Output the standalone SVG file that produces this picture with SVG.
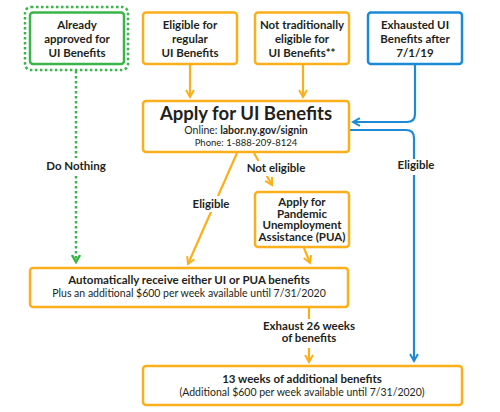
<svg xmlns="http://www.w3.org/2000/svg" width="500" height="412" viewBox="0 0 500 412">
<style>
.o{fill:#fff;stroke:#FBB01B;stroke-width:2.5}
.g{fill:#fff;stroke:#3BB54A;stroke-width:2.5}
.b{fill:#fff;stroke:#1D8AD6;stroke-width:2.5}
.lo{fill:none;stroke:#FBB01B;stroke-width:2.2}
.lb{fill:none;stroke:#1D8AD6;stroke-width:2.2}
.lg{fill:none;stroke:#3BB54A;stroke-width:2.5;stroke-dasharray:2.5 2.5}
text{font-family:Lato,"Open Sans","Liberation Sans",sans-serif;fill:#231F20;text-anchor:middle}
.t{font-size:11.5px;font-weight:bold}
.s{font-size:10.5px}
.w{fill:#fff;stroke:none}
</style>
<defs>
<marker id="ao" viewBox="0 0 10 10" refX="8" refY="5" markerWidth="4.5" markerHeight="4.5" orient="auto" markerUnits="strokeWidth"><path d="M1,1 L8,5 L1,9" fill="none" stroke="#FBB01B" stroke-width="2"/></marker>
<marker id="ab" viewBox="0 0 10 10" refX="8" refY="5" markerWidth="4.5" markerHeight="4.5" orient="auto" markerUnits="strokeWidth"><path d="M1,1 L8,5 L1,9" fill="none" stroke="#1D8AD6" stroke-width="2"/></marker>
<marker id="ag" viewBox="0 0 10 10" refX="8" refY="5" markerWidth="4" markerHeight="4" orient="auto" markerUnits="strokeWidth"><path d="M1,1 L8,5 L1,9" fill="none" stroke="#3BB54A" stroke-width="2.5"/></marker>
</defs>
<g id="connectors">
<path class="lg" d="M76,71 V262" marker-end="url(#ag)"/>
<path class="lo" d="M190,65 V97" marker-end="url(#ao)"/>
<path class="lo" d="M303,65 V97" marker-end="url(#ao)"/>
<path class="lb" d="M415,65 V114 Q415,122 407,122 H353" marker-end="url(#ab)"/>
<path class="lb" d="M350,130 H406 Q414,130 414,138 V361" marker-end="url(#ab)"/>
<path class="lo" d="M237,153 L188,264" marker-end="url(#ao)"/>
<path class="lo" d="M254,153 L272,185" marker-end="url(#ao)"/>
<path class="lo" d="M304,248 L310,263" marker-end="url(#ao)"/>
<path class="lo" d="M309,308 V362" marker-end="url(#ao)"/>
<rect class="w" x="40" y="158" width="72" height="16"/>
<rect class="w" x="184" y="196" width="54" height="16"/>
<rect class="w" x="242" y="161" width="68" height="15"/>
<rect class="w" x="392" y="159" width="46" height="16"/>
<rect class="w" x="254" y="319" width="110" height="29"/>
<text class="t" x="76" y="170">Do Nothing</text>
<text class="t" x="211" y="208">Eligible</text>
<text class="t" x="276" y="172">Not eligible</text>
<text class="t" x="416" y="169">Eligible</text>
<text class="t" x="309" y="330">Exhaust 26 weeks</text>
<text class="t" x="309" y="342">of benefits</text>
</g>
<g id="already">
<rect x="25" y="7" width="103" height="63" rx="6" fill="none" stroke="#3BB54A" stroke-width="2.5" stroke-dasharray="2.5 2.5"/>
<rect class="g" x="30" y="12.5" width="94" height="51.5" rx="3"/>
<text class="t" x="77" y="29">Already</text>
<text class="t" x="77" y="43">approved for</text>
<text class="t" x="77" y="57">UI Benefits</text>
</g>
<g id="regular">
<rect class="o" x="143" y="12.5" width="94" height="51.5" rx="3"/>
<text class="t" x="190" y="29">Eligible for</text>
<text class="t" x="190" y="43">regular</text>
<text class="t" x="190" y="57">UI Benefits</text>
</g>
<g id="not-trad">
<rect class="o" x="255" y="12.5" width="94" height="51.5" rx="3"/>
<text class="t" x="302" y="29">Not traditionally</text>
<text class="t" x="302" y="43">eligible for</text>
<text class="t" x="302" y="57">UI Benefits**</text>
</g>
<g id="exhausted">
<rect class="b" x="368" y="12.5" width="94" height="51.5" rx="3"/>
<text class="t" x="415" y="29">Exhausted UI</text>
<text class="t" x="415" y="43">Benefits after</text>
<text class="t" x="415" y="57">7/1/19</text>
</g>
<g id="apply">
<rect class="o" x="143" y="101" width="206" height="51" rx="3"/>
<text x="246" y="120" font-size="18.5" font-weight="bold">Apply for UI Benefits</text>
<text x="246" y="134" font-size="10.5">Online: <tspan font-weight="bold">labor.ny.gov/signin</tspan></text>
<text x="246" y="146" font-size="9.5">Phone: 1-888-209-8124</text>
</g>
<g id="pua">
<rect class="o" x="255" y="192" width="94" height="55" rx="3"/>
<text class="t" x="302" y="206">Apply for</text>
<text class="t" x="302" y="217.5">Pandemic</text>
<text class="t" x="302" y="229">Unemployment</text>
<text class="t" x="302" y="240.5">Assistance (PUA)</text>
</g>
<g id="auto">
<rect class="o" x="30" y="268" width="318" height="39" rx="3"/>
<text class="t" x="189" y="284">Automatically receive either UI or PUA benefits</text>
<text class="s" x="189" y="297">Plus an additional $600 per week available until 7/31/2020</text>
</g>
<g id="thirteen">
<rect class="o" x="143" y="366" width="319" height="39" rx="3"/>
<text class="t" x="302" y="383">13 weeks of additional benefits</text>
<text class="s" x="302" y="396">(Additional $600 per week available until 7/31/2020)</text>
</g>
</svg>
